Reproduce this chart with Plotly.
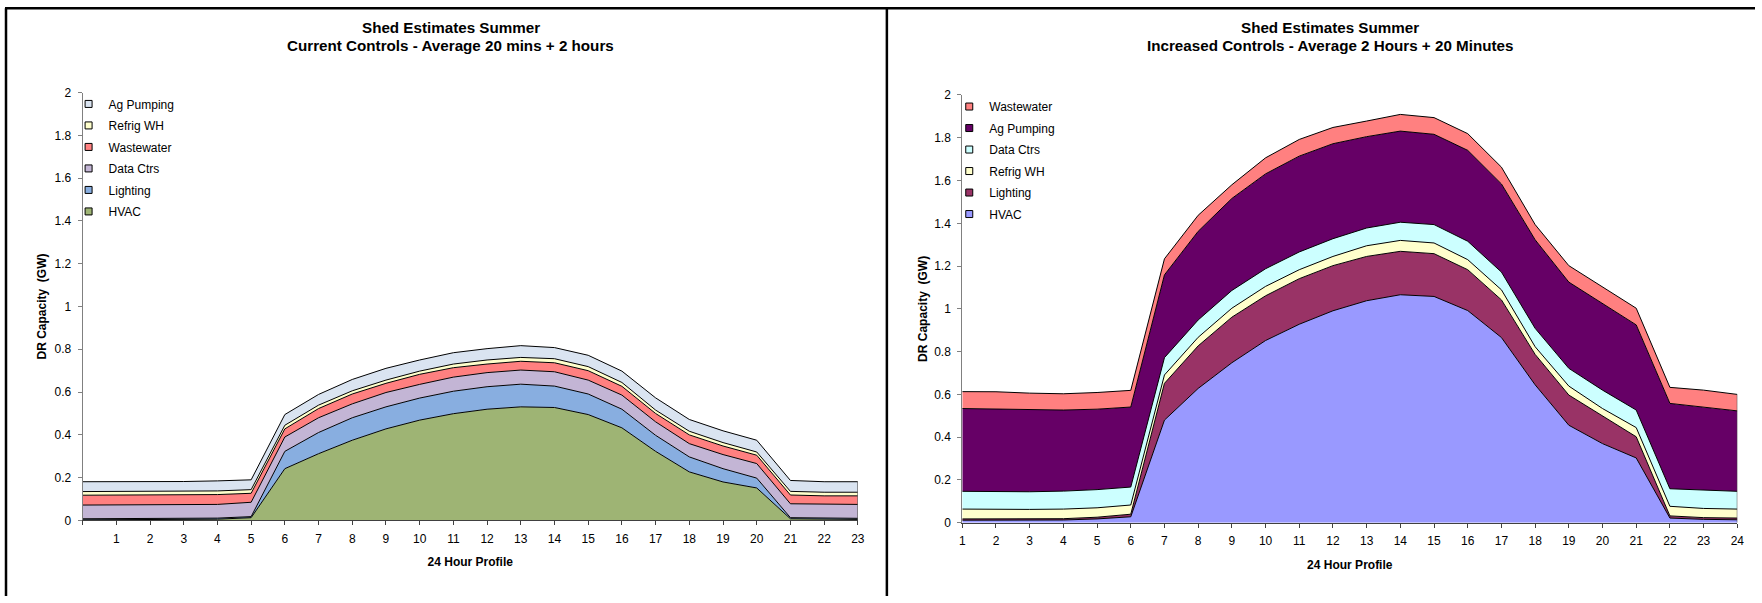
import plotly.graph_objects as go

# ---------------- data ----------------
# Current controls (hours 0-23), GW shed per end use
hours_cur = list(range(0, 24))
hour_labels_cur = [""] + [str(h) for h in range(1, 24)]
hvac_cur = [0.003, 0.003, 0.003, 0.004, 0.006, 0.013, 0.242, 0.312, 0.375, 0.428, 0.469, 0.499,
            0.520, 0.531, 0.528, 0.495, 0.433, 0.323, 0.227, 0.180, 0.152, 0.008, 0.005, 0.005]
lighting_cur = [0.005, 0.005, 0.005, 0.005, 0.005, 0.005, 0.081, 0.099, 0.105, 0.103, 0.103, 0.105,
                0.105, 0.106, 0.100, 0.096, 0.087, 0.075, 0.070, 0.062, 0.046, 0.005, 0.005, 0.005]
datactrs_cur = [0.064, 0.064, 0.064, 0.064, 0.064, 0.067, 0.067, 0.069, 0.065, 0.067, 0.064, 0.066,
                0.066, 0.066, 0.067, 0.065, 0.066, 0.063, 0.062, 0.066, 0.068, 0.065, 0.065, 0.065]
wastewater_cur = [0.046, 0.046, 0.046, 0.046, 0.046, 0.042, 0.038, 0.043, 0.046, 0.043, 0.047, 0.044,
                  0.040, 0.041, 0.042, 0.044, 0.041, 0.039, 0.041, 0.040, 0.039, 0.041, 0.040, 0.040]
refrigwh_cur = [0.017, 0.017, 0.017, 0.017, 0.017, 0.017, 0.017, 0.016, 0.015, 0.015, 0.015, 0.017,
                0.019, 0.018, 0.019, 0.019, 0.018, 0.016, 0.017, 0.016, 0.015, 0.017, 0.017, 0.017]
agpumping_cur = [0.046, 0.046, 0.046, 0.046, 0.047, 0.046, 0.050, 0.050, 0.053, 0.055, 0.052, 0.053,
                 0.053, 0.055, 0.052, 0.053, 0.053, 0.057, 0.055, 0.055, 0.055, 0.051, 0.049, 0.049]

# Increased controls (hours 1-24)
hours_inc = list(range(1, 25))
hour_labels_inc = [str(h) for h in range(1, 25)]
hvac_inc = [0.012, 0.012, 0.012, 0.013, 0.018, 0.028, 0.480, 0.628, 0.748, 0.852, 0.928, 0.991,
            1.038, 1.066, 1.058, 0.992, 0.866, 0.645, 0.456, 0.370, 0.303, 0.022, 0.016, 0.014]
lighting_inc = [0.006, 0.006, 0.006, 0.006, 0.008, 0.012, 0.172, 0.199, 0.213, 0.209, 0.213, 0.211,
                0.207, 0.203, 0.200, 0.191, 0.176, 0.142, 0.141, 0.128, 0.099, 0.010, 0.008, 0.008]
refrigwh_inc = [0.046, 0.0445, 0.0445, 0.045, 0.044, 0.043, 0.039, 0.040, 0.042, 0.044, 0.042, 0.043,
                0.050, 0.051, 0.050, 0.047, 0.047, 0.036, 0.042, 0.036, 0.043, 0.045, 0.043, 0.042]
datactrs_inc = [0.083, 0.0825, 0.0825, 0.084, 0.085, 0.084, 0.081, 0.081, 0.083, 0.0825, 0.083, 0.083,
                0.083, 0.085, 0.086, 0.086, 0.083, 0.086, 0.083, 0.086, 0.082, 0.082, 0.085, 0.083]
agpumping_inc = [0.387, 0.386, 0.382, 0.379, 0.376, 0.374, 0.387, 0.4145, 0.430, 0.4435, 0.448, 0.444,
                 0.427, 0.426, 0.422, 0.425, 0.412, 0.414, 0.403, 0.403, 0.398, 0.399, 0.387, 0.376]
wastewater_inc = [0.079, 0.0815, 0.079, 0.076, 0.078, 0.078, 0.075, 0.075, 0.064, 0.075, 0.078, 0.076,
                  0.073, 0.078, 0.078, 0.078, 0.0785, 0.071, 0.077, 0.079, 0.078, 0.075, 0.081, 0.077]

# ---------------- layout helpers ----------------
W, H = 1762, 603
FONT = "Arial, Liberation Sans, sans-serif"
# the page keeps the browser's default body margin and is fitted to the
# window, so window-pixel positions are converted to figure fractions here
SX, OX = 0.993, 3.0
SY, OY = 0.974, 8.0


def fx(px):
    return ((px - OX) / SX) / W


def fy(py):
    return 1 - ((py - OY) / SY) / H


fig = go.Figure()

# stacking order bottom -> top, with fill colours
series_cur = [
    ("HVAC", hvac_cur, "#9EB474"),
    ("Lighting", lighting_cur, "#88AEE0"),
    ("Data Ctrs", datactrs_cur, "#C3B5D5"),
    ("Wastewater", wastewater_cur, "#FF8080"),
    ("Refrig WH", refrigwh_cur, "#FFFFCC"),
    ("Ag Pumping", agpumping_cur, "#DAE4F1"),
]
series_inc = [
    ("HVAC", hvac_inc, "#9999FF"),
    ("Lighting", lighting_inc, "#993366"),
    ("Refrig WH", refrigwh_inc, "#FFFFCC"),
    ("Data Ctrs", datactrs_inc, "#CCFFFF"),
    ("Ag Pumping", agpumping_inc, "#660066"),
    ("Wastewater", wastewater_inc, "#FF8080"),
]


def add_stack(xs, series, group, xa, ya, legend):
    for name, vals, color in series:
        fig.add_trace(go.Scatter(
            x=xs, y=vals, mode="lines", stackgroup=group, name=name,
            line=dict(color="black", width=1), fillcolor=color,
            showlegend=False, xaxis=xa, yaxis=ya, hoverinfo="x+y+name"))
    # outline of the stack at its last hour
    total_last = sum(vals[-1] for _, vals, _ in series)
    fig.add_trace(go.Scatter(
        x=[xs[-1], xs[-1]], y=[0, total_last], mode="lines",
        line=dict(color="#404040", width=1), showlegend=False,
        hoverinfo="skip", xaxis=xa, yaxis=ya))
    # legend entries, top of the stack first
    for name, vals, color in reversed(series):
        fig.add_trace(go.Scatter(
            x=[None], y=[None], mode="markers", name=name,
            marker=dict(symbol="square", size=7, color=color,
                        line=dict(color="black", width=1)),
            legend=legend, legendgroup=group + name, xaxis=xa, yaxis=ya))


add_stack(hours_cur, series_cur, "cur", "x", "y", "legend")
add_stack(hours_inc, series_inc, "inc", "x2", "y2", "legend2")

axis_common = dict(
    showgrid=False, zeroline=False, showline=True, linewidth=1,
    ticks="outside", ticklen=4, tickwidth=1,
    tickfont=dict(family=FONT, size=12, color="black"),
)
title_font = dict(family=FONT, size=12, color="black")

fig.update_layout(
    xaxis=dict(domain=[fx(82.5), fx(856.7)], range=[0, 23], tickvals=hours_cur,
               ticktext=hour_labels_cur, linecolor="#404040", tickcolor="#404040",
               ticklabelstandoff=3,
               title=dict(text="<b>24 Hour Profile</b>", standoff=12.5, font=title_font),
               anchor="y", **axis_common),
    yaxis=dict(domain=[fy(520), fy(93.3)], range=[0, 2], dtick=0.2,
               linecolor="#808080", tickcolor="#808080", ticklabelstandoff=4,
               title=dict(text="<b>DR Capacity  (GW)</b>", standoff=4.5, font=title_font),
               anchor="x", **axis_common),
    xaxis2=dict(domain=[fx(961), fx(1735)], range=[1, 24], tickvals=hours_inc,
                ticktext=hour_labels_inc, linecolor="#404040", tickcolor="#404040",
                ticklabelstandoff=3,
                title=dict(text="<b>24 Hour Profile</b>", standoff=12.5, font=title_font),
                anchor="y2", **axis_common),
    yaxis2=dict(domain=[fy(522.3), fy(95.7)], range=[0, 2], dtick=0.2,
                linecolor="#808080", tickcolor="#808080", ticklabelstandoff=4,
                title=dict(text="<b>DR Capacity  (GW)</b>", standoff=3.5, font=title_font),
                anchor="x2", **axis_common),
    legend=dict(x=fx(68.5), y=fy(90.2), xanchor="left", yanchor="top",
                bgcolor="rgba(0,0,0,0)", tracegroupgap=2.5,
                font=dict(family=FONT, size=12, color="black")),
    legend2=dict(x=fx(948), y=fy(92.8), xanchor="left", yanchor="top",
                 bgcolor="rgba(0,0,0,0)", tracegroupgap=2.5,
                 font=dict(family=FONT, size=12, color="black")),
    width=W, height=H,
    margin=dict(l=0, r=0, t=0, b=0),
    paper_bgcolor="white", plot_bgcolor="white",
    font=dict(family=FONT, color="black"),
)

# chart titles (two lines each)
titles = [
    (450, "Shed Estimates Summer", "Current Controls - Average 20 mins + 2 hours"),
    (1328, "Shed Estimates Summer", "Increased Controls - Average 2 Hours + 20 Minutes"),
]
for cx, line1, line2 in titles:
    for text, cy in ((line1, 28.8), (line2, 46.0)):
        fig.add_annotation(x=fx(cx), y=fy(cy), xref="paper", yref="paper",
                           text="<b>" + text + "</b>", showarrow=False,
                           xanchor="center", yanchor="middle",
                           font=dict(family=FONT, size=15.2, color="black"))

# panel frames
frame = dict(type="line", xref="paper", yref="paper", line=dict(color="black", width=2.5))
top = 1 - 1.25 / H
fig.add_shape(x0=fx(5), x1=1, y0=top, y1=top, **frame)
fig.add_shape(x0=fx(6), x1=fx(6), y0=top, y1=0, **frame)
fig.add_shape(x0=fx(885.7), x1=fx(885.7), y0=top, y1=0, **frame)

fig.write_html("out.html")
